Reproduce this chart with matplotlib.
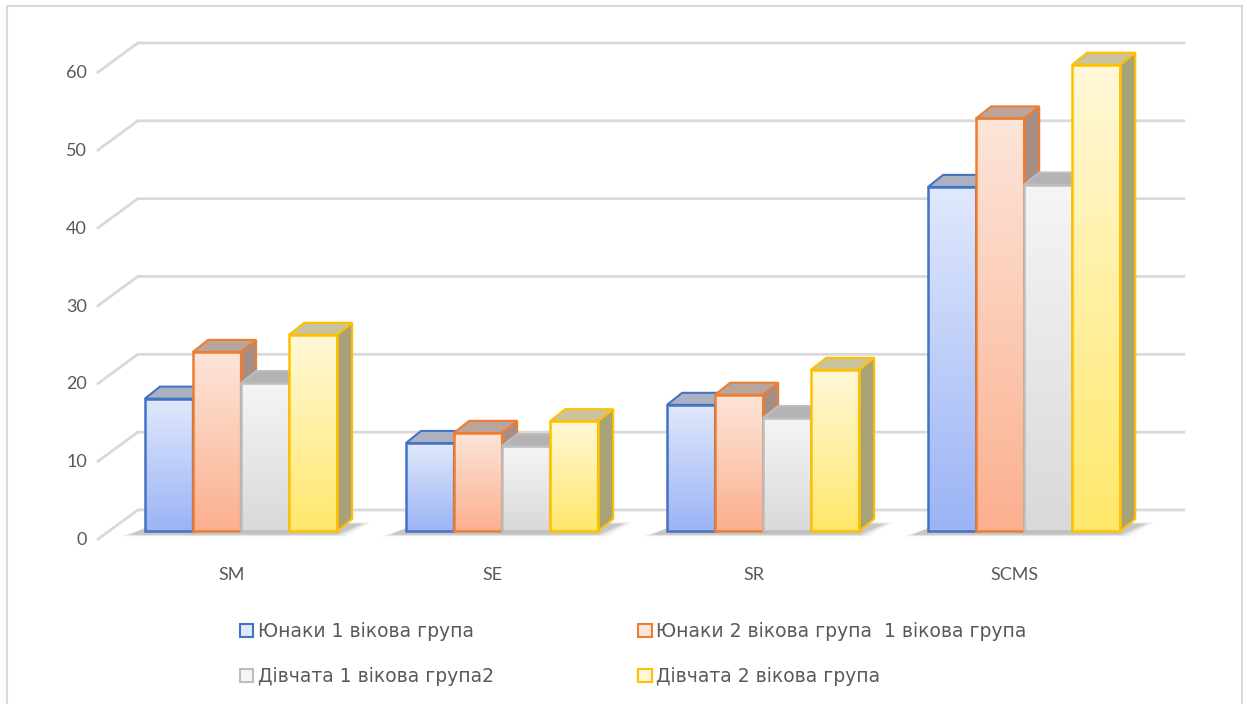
import numpy as np
import matplotlib.pyplot as plt
from matplotlib.patches import Polygon, Rectangle
from matplotlib.colors import LinearSegmentedColormap

plt.rcParams['font.family'] = ['Lato', 'DejaVu Sans']

categories = ['SM', 'SE', 'SR', 'SCMS']
series_names = ['Юнаки 1 вікова група',
                'Юнаки 2 вікова група  1 вікова група',
                'Дівчата 1 вікова група2',
                'Дівчата 2 вікова група']
boys_1 = [17.0, 11.3, 16.2, 44.2]
boys_2 = [23.0, 12.6, 17.5, 53.0]
girls_1 = [19.0, 10.9, 14.5, 44.5]
girls_2 = [25.2, 14.1, 20.7, 59.9]
yticks = [0, 10, 20, 30, 40, 50, 60]

series = [boys_1, boys_2, girls_1, girls_2]
# edge, gradient top, gradient bottom, top face, side face
styles = [
    ('#4472c4', '#e0e8fc', '#9cb4f6', '#a9b1c3', '#8a98b8'),
    ('#ed7d31', '#fde5d9', '#fbb08f', '#b9a59c', '#a58f85'),
    ('#bdbdbd', '#f5f5f5', '#d9d9d9', '#b3b3b3', '#a0a0a0'),
    ('#ffc000', '#fff8d8', '#ffe86c', '#c9c49d', '#a8a278'),
]
text_color = '#595959'
grid_color = '#d9d9d9'

# fake 3d geometry (x in category units, y in value units)
bar_w = 0.184
depth_dx, depth_dy = 0.058, 1.55
wall_y = 2.70     # back wall offset above the bar base
floor_y = -1.16   # front edge of the floor below the bar base

fig = plt.figure(figsize=(12.47, 7.04), dpi=100)
ax = fig.add_axes([0, 0, 1, 1])
ax.axis('off')

# chart area border
fig.patches.append(Rectangle((0.0056, -0.01), 0.9904, 1.0015, transform=fig.transFigure,
                             fill=False, edgecolor=grid_color, linewidth=1.5))

x_front = -0.552
x_left = -0.395
x_right = 3.617
for v in yticks:
    ax.plot([x_front, x_left, x_right],
            [v + floor_y, v + wall_y, v + wall_y],
            color=grid_color, linewidth=2, zorder=1, solid_capstyle='butt')
    ax.text(-0.59, v + floor_y, str(v), ha='right', va='center',
            fontsize=13, color=text_color)

# soft floor shadow under each group
for i in range(len(categories)):
    g_left = i - 2 * bar_w
    g_right = i + 2 * bar_w
    for k, a in enumerate([0.04, 0.06, 0.09, 0.13]):
        grow = (3 - k) * 0.012
        pts = [(g_left - 0.06 - grow, -0.5 - grow * 6),
               (g_right + grow, -0.5 - grow * 6),
               (g_right + depth_dx + 0.04 + grow, depth_dy * 0.6 + grow * 6),
               (g_left + depth_dx - 0.02 + grow, depth_dy * 0.6 + grow * 6)]
        ax.add_patch(Polygon(pts, closed=True, facecolor='#404040', alpha=a,
                             edgecolor='none', zorder=2))

grad = np.linspace(0, 1, 64).reshape(-1, 1)
for i in range(len(categories)):
    for j, vals in enumerate(series):
        edge, c_top, c_bot, c_cap, c_side = styles[j]
        h = vals[i]
        x0 = i - 2 * bar_w + j * bar_w
        x1 = x0 + bar_w
        z = 3 + i * 10 + j
        front = Rectangle((x0, 0), bar_w, h, facecolor='none', edgecolor='none', zorder=z)
        ax.add_patch(front)
        cmap = LinearSegmentedColormap.from_list('g%d' % j, [c_bot, c_top])
        im = ax.imshow(grad, cmap=cmap, extent=(x0, x1, 0, h), origin='lower',
                       aspect='auto', zorder=z, interpolation='bilinear')
        im.set_clip_path(front)
        side = Polygon([(x1, 0), (x1 + depth_dx, depth_dy), (x1 + depth_dx, h + depth_dy), (x1, h)],
                       closed=True, facecolor=c_side, edgecolor=edge, linewidth=1.5, zorder=z)
        cap = Polygon([(x0, h), (x1, h), (x1 + depth_dx, h + depth_dy), (x0 + depth_dx, h + depth_dy)],
                      closed=True, facecolor=c_cap, edgecolor=edge, linewidth=1.5, zorder=z)
        ax.add_patch(side)
        ax.add_patch(cap)
        ax.add_patch(Rectangle((x0, 0), bar_w, h, facecolor='none', edgecolor=edge,
                               linewidth=1.8, zorder=z + 0.5))

for i, c in enumerate(categories):
    ax.text(i - 0.035, -5.65, c, ha='center', va='center', fontsize=13, color=text_color)

ax.set_xlim(-0.923, 3.854)
ax.set_ylim(-22.23, 68.22)

handles = []
for s in styles:
    handles.append(Rectangle((0, 0), 1, 1, facecolor=s[1], edgecolor=s[0], linewidth=1.5))
order = [0, 2, 1, 3]
leg = fig.legend([handles[k] for k in order], [series_names[k] for k in order],
                 ncol=2, loc='center', bbox_to_anchor=(0.508, 0.071), frameon=False,
                 prop={'family': 'DejaVu Sans', 'size': 13.5},
                 handlelength=0.7, handleheight=0.7, handletextpad=0.25,
                 columnspacing=7.7, labelspacing=1.35, labelcolor=text_color)

fig.savefig('out.png', dpi=100)
